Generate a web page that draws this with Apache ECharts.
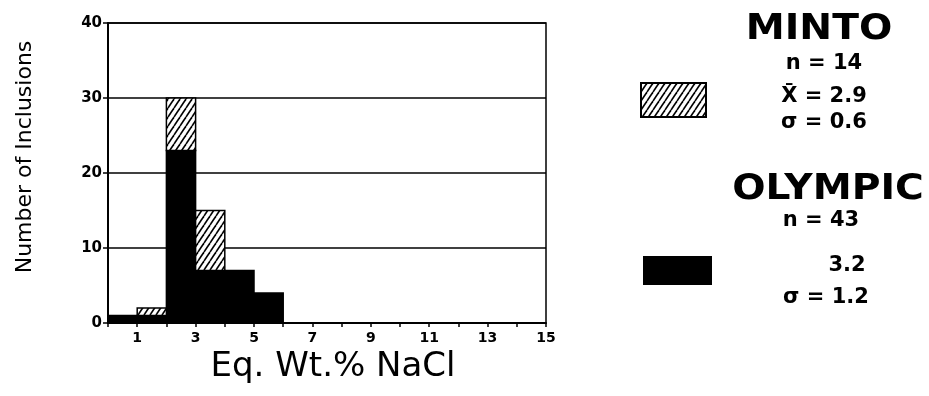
<!DOCTYPE html>
<html>
<head>
<meta charset="utf-8">
<script src="https://cdn.jsdelivr.net/npm/echarts@6/dist/echarts.min.js"></script>
<style>
  html, body { margin: 0; padding: 0; background: #fff; }
  #chart { width: 929px; height: 396px; }
</style>
</head>
<body>
<div id="chart"></div>
<script>
  // bins of 1 wt.% starting at these values
  var binStarts = [0, 1, 2, 3, 4, 5]
  var olympic = [1, 1, 23, 7, 7, 4]
  var minto = [0, 1, 7, 8, 0, 0]
  var yTicks = [0, 10, 20, 30, 40]
  var mintoStats = ['n = 14', 'X\u0304 = 2.9', '\u03c3 = 0.6']
  var olympicStats = ['n = 43', '3.2', '\u03c3 = 1.2']

  // diagonal hatch tile
  function makeHatch () {
    var w = 6, h = 9
    var c = document.createElement('canvas')
    c.width = w
    c.height = h
    var ctx = c.getContext('2d')
    ctx.fillStyle = '#fff'
    ctx.fillRect(0, 0, w, h)
    ctx.strokeStyle = '#000'
    ctx.lineWidth = 1.6
    for (var k = -1; k <= 1; k++) {
      ctx.beginPath()
      ctx.moveTo(k * w, h)
      ctx.lineTo(k * w + w, 0)
      ctx.stroke()
    }
    return c
  }
  var hatch = { image: makeHatch(), repeat: 'repeat' }

  var olympicData = []
  var mintoData = []
  for (var i = 0; i < binStarts.length; i++) {
    if (olympic[i] > 0) olympicData.push([binStarts[i], binStarts[i] + 1, 0, olympic[i]])
    if (minto[i] > 0) mintoData.push([binStarts[i], binStarts[i] + 1, olympic[i], olympic[i] + minto[i]])
  }

  function renderBin (fill) {
    return function (params, api) {
      var p0 = api.coord([api.value(0), api.value(2)])
      var p1 = api.coord([api.value(1), api.value(3)])
      return {
        type: 'rect',
        shape: { x: p0[0], y: p1[1], width: p1[0] - p0[0], height: p0[1] - p1[1] },
        style: { fill: fill, stroke: '#000', lineWidth: 1.5 }
      }
    }
  }

  var myChart = echarts.init(document.getElementById('chart'))

  var graphics = [
    {
      type: 'rect', left: 640, top: 82,
      shape: { width: 65, height: 34 },
      style: { fill: hatch, stroke: '#000', lineWidth: 2 }
    },
    {
      type: 'rect', left: 643, top: 256,
      shape: { width: 69, height: 29 },
      style: { fill: '#000' }
    },
    {
      type: 'text', x: 819, y: 30, scaleX: 1.12,
      style: { text: 'MINTO', font: 'bold 35px "DejaVu Sans"', fill: '#000', align: 'center', verticalAlign: 'middle' }
    },
    {
      type: 'text', x: 828, y: 190, scaleX: 1.12,
      style: { text: 'OLYMPIC', font: 'bold 35px "DejaVu Sans"', fill: '#000', align: 'center', verticalAlign: 'middle' }
    }
  ]
  var mintoY = [64, 97, 123]
  var olympicY = [221, 266, 298]
  var olympicX = [821, 847, 826]
  for (var j = 0; j < 3; j++) {
    graphics.push({
      type: 'text', x: 824, y: mintoY[j],
      style: { text: mintoStats[j], font: 'bold 21px "DejaVu Sans"', fill: '#000', align: 'center', verticalAlign: 'middle' }
    })
    graphics.push({
      type: 'text', x: olympicX[j], y: olympicY[j],
      style: { text: olympicStats[j], font: 'bold 21px "DejaVu Sans"', fill: '#000', align: 'center', verticalAlign: 'middle' }
    })
  }

  var option = {
    animation: false,
    backgroundColor: '#fff',
    grid: {
      show: true,
      left: 108,
      right: 383,
      top: 23,
      bottom: 73,
      borderColor: '#000',
      borderWidth: 1.5
    },
    xAxis: {
      type: 'value',
      min: 0,
      max: 15,
      interval: 1,
      name: 'Eq. Wt.% NaCl',
      nameLocation: 'middle',
      nameGap: 24,
      nameTextStyle: { fontFamily: 'DejaVu Sans', fontSize: 34, color: '#000', padding: [0, 0, 0, 12] },
      axisLine: { lineStyle: { color: '#000', width: 2 } },
      axisTick: { show: true, length: 4, lineStyle: { color: '#000', width: 1.5 } },
      splitLine: { show: false },
      axisLabel: {
        margin: 8,
        color: '#000',
        fontFamily: 'DejaVu Sans',
        fontWeight: 'bold',
        fontSize: 14,
        formatter: function (v) { return v % 2 === 1 ? String(v) : '' }
      }
    },
    yAxis: {
      type: 'value',
      min: yTicks[0],
      max: yTicks[yTicks.length - 1],
      interval: yTicks[1] - yTicks[0],
      name: 'Number of Inclusions',
      nameLocation: 'middle',
      nameGap: 72,
      nameTextStyle: { fontFamily: 'DejaVu Sans', fontSize: 22, color: '#000', padding: [0, 0, 0, 32] },
      axisLine: { lineStyle: { color: '#000', width: 2 } },
      axisTick: { show: true, length: 5, lineStyle: { color: '#000', width: 1.5 } },
      splitLine: { show: true, lineStyle: { color: '#000', width: 1.5 } },
      axisLabel: {
        margin: 6,
        color: '#000',
        fontFamily: 'DejaVu Sans',
        fontWeight: 'bold',
        fontSize: 15
      }
    },
    series: [
      {
        name: 'OLYMPIC',
        type: 'custom',
        renderItem: renderBin('#000'),
        encode: { x: [0, 1], y: [2, 3] },
        data: olympicData
      },
      {
        name: 'MINTO',
        type: 'custom',
        renderItem: renderBin(hatch),
        encode: { x: [0, 1], y: [2, 3] },
        data: mintoData
      }
    ],
    graphic: graphics
  }
  myChart.setOption(option)
</script>
</body>
</html>
